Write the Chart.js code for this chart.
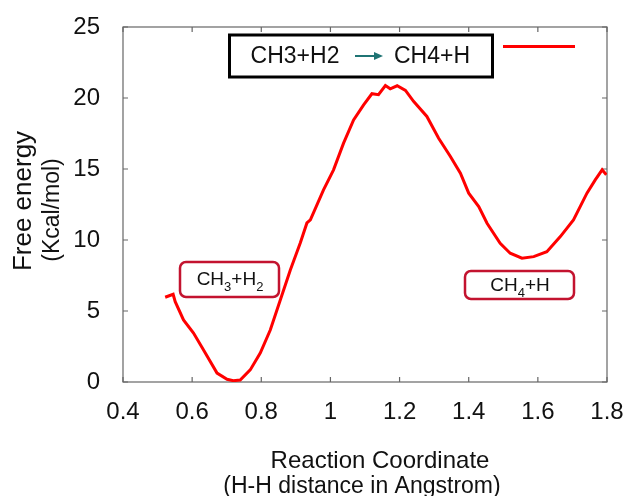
<!DOCTYPE html>
<html>
<head>
<meta charset="utf-8">
<title>Free energy profile</title>
<script src="https://cdn.jsdelivr.net/npm/chart.js@4.4.1/dist/chart.umd.min.js"></script>
<style>
  html, body { margin: 0; padding: 0; background: #fff; }
</style>
</head>
<body>
<canvas id="energyChart" width="627" height="496"></canvas>
<script>
// data
const energyX = [0.522, 0.545, 0.551, 0.575, 0.604, 0.633, 0.672, 0.701, 0.719, 0.739,
  0.768, 0.797, 0.826, 0.855, 0.884, 0.913, 0.932, 0.942, 0.980, 1.009,
  1.038, 1.067, 1.096, 1.120, 1.139, 1.159, 1.173, 1.193, 1.217, 1.241,
  1.279, 1.313, 1.347, 1.376, 1.400, 1.429, 1.453, 1.491, 1.520, 1.554,
  1.588, 1.626, 1.665, 1.703, 1.742, 1.766, 1.786, 1.798];
const energyY = [5.97, 6.18, 5.66, 4.37, 3.45, 2.26, 0.63, 0.19, 0.09, 0.14,
  0.85, 2.04, 3.66, 5.78, 7.89, 9.80, 11.20, 11.42, 13.53, 14.94,
  16.82, 18.46, 19.52, 20.30, 20.23, 20.88, 20.65, 20.86, 20.53, 19.75,
  18.70, 17.17, 15.88, 14.70, 13.30, 12.35, 11.18, 9.77, 9.07, 8.72,
  8.83, 9.18, 10.24, 11.42, 13.30, 14.23, 14.94, 14.59];

const xTickValues = [0.4, 0.6, 0.8, 1.0, 1.2, 1.4, 1.6, 1.8];
const xTickLabels = ['0.4', '0.6', '0.8', '1', '1.2', '1.4', '1.6', '1.8'];
const yTickValues = [0, 5, 10, 15, 20, 25];
const yTickLabels = ['0', '5', '10', '15', '20', '25'];

const legendFrom = 'CH3+H2';
const legendTo = 'CH4+H';
const reactantParts = [['CH', false], ['3', true], ['+H', false], ['2', true]];
const productParts = [['CH', false], ['4', true], ['+H', false]];

const FONT = '"Liberation Sans", Arial, Helvetica, sans-serif';
const LINE_RED = '#ff0000';
const BOX_RED = '#c3132f';
const ARROW_TEAL = '#1f7474';
const AXIS_GREY = '#666666';

function drawRich(ctx, parts, cx, baseline, size, subSize) {
  let total = 0;
  parts.forEach(([t, sub]) => {
    ctx.font = `${sub ? subSize : size}px ${FONT}`;
    total += ctx.measureText(t).width;
  });
  let x = cx - total / 2;
  ctx.textAlign = 'left';
  ctx.textBaseline = 'alphabetic';
  parts.forEach(([t, sub]) => {
    ctx.font = `${sub ? subSize : size}px ${FONT}`;
    ctx.fillText(t, x, sub ? baseline + 6 : baseline);
    x += ctx.measureText(t).width;
  });
}

function roundBox(ctx, x, y, w, h, r) {
  ctx.beginPath();
  ctx.roundRect(x, y, w, h, r);
  ctx.stroke();
}

// frame + inward ticks on all four sides
const framePlugin = {
  id: 'frame',
  beforeDatasetsDraw(chart) {
    const { ctx, chartArea: a, scales: { x, y } } = chart;
    ctx.save();
    ctx.strokeStyle = AXIS_GREY;
    ctx.lineWidth = 1.2;
    ctx.strokeRect(a.left, a.top, a.right - a.left, a.bottom - a.top);
    ctx.beginPath();
    x.ticks.forEach(t => {
      const px = x.getPixelForValue(t.value);
      ctx.moveTo(px, a.bottom); ctx.lineTo(px, a.bottom - 5);
      ctx.moveTo(px, a.top); ctx.lineTo(px, a.top + 5);
    });
    y.ticks.forEach(t => {
      const py = y.getPixelForValue(t.value);
      ctx.moveTo(a.left, py); ctx.lineTo(a.left + 5, py);
      ctx.moveTo(a.right, py); ctx.lineTo(a.right - 5, py);
    });
    ctx.stroke();
    ctx.restore();
  }
};

// legend box, annotations and axis titles
const textPlugin = {
  id: 'texts',
  afterDraw(chart) {
    const ctx = chart.ctx;
    const ds = chart.data.datasets[0];
    ctx.save();
    ctx.fillStyle = '#111';

    // legend
    ctx.strokeStyle = '#000';
    ctx.lineWidth = 3;
    ctx.strokeRect(229.5, 35, 263, 42);
    ctx.font = `23px ${FONT}`;
    ctx.textAlign = 'center';
    ctx.textBaseline = 'alphabetic';
    ctx.fillText(legendFrom, 295, 63);
    ctx.fillText(legendTo, 432, 63);
    ctx.strokeStyle = ARROW_TEAL;
    ctx.fillStyle = ARROW_TEAL;
    ctx.lineWidth = 2;
    ctx.beginPath(); ctx.moveTo(355, 56); ctx.lineTo(376, 56); ctx.stroke();
    ctx.beginPath(); ctx.moveTo(383, 56); ctx.lineTo(374, 52); ctx.lineTo(374, 60); ctx.closePath(); ctx.fill();
    ctx.strokeStyle = ds.borderColor;
    ctx.lineWidth = ds.borderWidth;
    ctx.beginPath(); ctx.moveTo(503, 46.5); ctx.lineTo(575, 46.5); ctx.stroke();

    // annotation boxes
    ctx.strokeStyle = BOX_RED;
    ctx.lineWidth = 2.5;
    roundBox(ctx, 180, 262, 99, 35, 6);
    roundBox(ctx, 465, 271, 109, 28, 6);
    ctx.fillStyle = '#111';
    drawRich(ctx, reactantParts, 230, 285, 19, 13);
    drawRich(ctx, productParts, 520, 291, 19, 13);

    // axis titles
    ctx.textAlign = 'center';
    ctx.font = `24px ${FONT}`;
    ctx.fillText('Reaction Coordinate', 380, 468);
    ctx.font = `23px ${FONT}`;
    ctx.fillText('(H-H distance in Angstrom)', 362, 493);

    ctx.save();
    ctx.translate(31, 201);
    ctx.rotate(-Math.PI / 2);
    ctx.font = `26px ${FONT}`;
    ctx.fillText('Free energy', 0, 0);
    ctx.restore();
    ctx.save();
    ctx.translate(58.5, 210);
    ctx.rotate(-Math.PI / 2);
    ctx.font = `23px ${FONT}`;
    ctx.fillText('(Kcal/mol)', 0, 0);
    ctx.restore();

    ctx.restore();
  }
};

new Chart(document.getElementById('energyChart'), {
  type: 'line',
  data: {
    datasets: [{
      label: legendFrom + ' \u2192 ' + legendTo,
      data: energyX.map((x, i) => ({ x: x, y: energyY[i] })),
      borderColor: LINE_RED,
      borderWidth: 3,
      pointRadius: 0,
      tension: 0,
      fill: false
    }]
  },
  options: {
    responsive: false,
    devicePixelRatio: 1,
    animation: false,
    layout: { autoPadding: false, padding: { top: 27, right: 20, left: 0, bottom: 0 } },
    plugins: {
      legend: { display: false },
      tooltip: { enabled: false }
    },
    scales: {
      x: {
        type: 'linear',
        min: 0.4,
        max: 1.8,
        afterBuildTicks: scale => { scale.ticks = xTickValues.map(v => ({ value: v })); },
        afterFit: scale => {
          scale.height = 114;
          scale.paddingLeft = 0; scale.paddingRight = 0;
        },
        grid: { display: false, drawTicks: false },
        border: { display: false },
        ticks: {
          padding: 16,
          color: '#111',
          font: { family: FONT, size: 24 },
          maxRotation: 0,
          callback: (value, index) => xTickLabels[index]
        }
      },
      y: {
        type: 'linear',
        min: 0,
        max: 25,
        afterBuildTicks: scale => { scale.ticks = yTickValues.map(v => ({ value: v })); },
        afterFit: scale => {
          scale.width = 123;
          scale.paddingTop = 0; scale.paddingBottom = 0;
        },
        grid: { display: false, drawTicks: false },
        border: { display: false },
        ticks: {
          padding: 23,
          color: '#111',
          font: { family: FONT, size: 24 },
          callback: (value, index) => yTickLabels[index]
        }
      }
    }
  },
  plugins: [framePlugin, textPlugin]
});
</script>
</body>
</html>
